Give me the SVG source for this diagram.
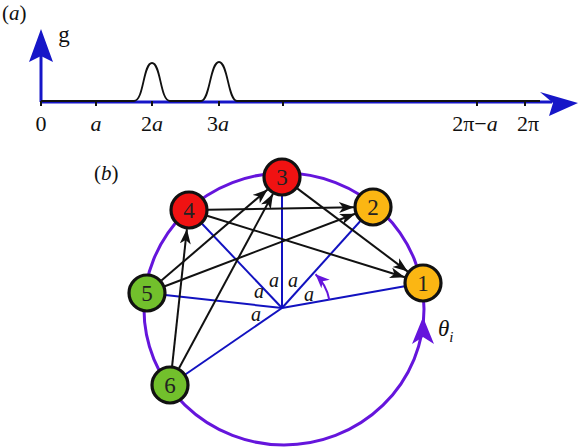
<svg xmlns="http://www.w3.org/2000/svg" width="580" height="448" viewBox="0 0 580 448">
<style>
.t{font-family:"Liberation Serif","Times New Roman",serif;fill:#111}
.i{font-style:italic}
.ax{stroke:#1616c8;stroke-width:3;fill:none}
.axh{fill:#1616c8}
.tick{stroke:#111;stroke-width:2}
.blue{stroke:#1212c0;stroke-width:2;fill:none}
.edge{stroke:#111;stroke-width:2;fill:none;marker-end:url(#ah)}
.node circle{stroke:#111;stroke-width:3.2}
.red{fill:#f01212}
.org{fill:#fbb613}
.grn{fill:#72c02c}
.num{font-family:"Liberation Serif","Times New Roman",serif;font-size:23px;fill:#222;text-anchor:middle}
.ring{stroke:#6515dc;stroke-width:3;fill:none}
</style>
<defs>
<marker id="ah" markerUnits="userSpaceOnUse" markerWidth="16" markerHeight="12" refX="15" refY="5.5" orient="auto">
<path d="M0,0 L15,5.5 L0,11 L4,5.5 z" fill="#111"/>
</marker>
<marker id="ahp" markerUnits="userSpaceOnUse" markerWidth="16" markerHeight="14" refX="14" refY="6" orient="auto">
<path d="M0,0 L14,6 L0,12 L4,6 z" fill="#6515dc"/>
</marker>
</defs>

<g id="panel-a">
<text class="t" x="2" y="20" font-size="21">(<tspan class="i">a</tspan>)</text>
<line class="ax" x1="41" y1="102" x2="41" y2="52"/>
<path class="axh" d="M41,29 L53,62 L41,56 L29,62 z"/>
<line class="ax" x1="41" y1="102" x2="552" y2="102"/>
<path class="axh" d="M540,92 L578,103 L549,116 L553,103 z"/>
<path d="M41,101 L134,101 C144,101 143,63 152,63 C161,63 160,101 170,101 L201,101 C210,101 210,62 219,62 C228,62 228,101 237,101 L540,101" fill="none" stroke="#111" stroke-width="1.8"/>
<g class="tick">
<line x1="41" y1="101" x2="41" y2="106"/>
<line x1="96" y1="101" x2="96" y2="106"/>
<line x1="152" y1="101" x2="152" y2="106"/>
<line x1="219" y1="101" x2="219" y2="106"/>
<line x1="283" y1="101" x2="283" y2="106"/>
<line x1="477" y1="101" x2="477" y2="106"/>
<line x1="525" y1="101" x2="525" y2="106"/>
</g>
<text class="t" x="64" y="42" font-size="23" text-anchor="middle">g</text>
<g font-size="22" text-anchor="middle">
<text class="t" x="41" y="131">0</text>
<text class="t i" x="96" y="131">a</text>
<text class="t" x="152" y="131">2<tspan class="i">a</tspan></text>
<text class="t" x="218" y="131">3<tspan class="i">a</tspan></text>
<text class="t" x="475" y="131">2π−<tspan class="i">a</tspan></text>
<text class="t" x="528" y="131">2π</text>
</g>
</g>

<g id="panel-b">
<text class="t" x="94" y="180" font-size="21">(<tspan class="i">b</tspan>)</text>
<ellipse class="ring" cx="284" cy="309" rx="140" ry="136"/>
<path d="M423,317 L434,344 L423,337 L412,344 z" fill="#6515dc"/>
<text class="t i" x="438" y="336" font-size="23">θ<tspan font-size="15" dy="6">i</tspan></text>
</g>

<g id="spokes">
<line class="blue" x1="282" y1="308" x2="423" y2="283"/>
<line class="blue" x1="282" y1="308" x2="373" y2="207"/>
<line class="blue" x1="282" y1="308" x2="282" y2="177"/>
<line class="blue" x1="282" y1="308" x2="189" y2="210"/>
<line class="blue" x1="282" y1="308" x2="147" y2="293"/>
<line class="blue" x1="282" y1="308" x2="170" y2="385"/>
<path d="M329.3,299.7 A48,48 0 0 0 315.5,274.3" fill="none" stroke="#6515dc" stroke-width="2" marker-end="url(#ahp)"/>
<g font-size="20">
<text class="t i" x="274" y="287" text-anchor="middle">a</text>
<text class="t i" x="293" y="287" text-anchor="middle">a</text>
<text class="t i" x="259" y="298" text-anchor="middle">a</text>
<text class="t i" x="309" y="301" text-anchor="middle">a</text>
<text class="t i" x="256" y="321" text-anchor="middle">a</text>
</g>
</g>

<g id="connectors">
<line class="edge" x1="208" y1="209.7" x2="354" y2="207.3"/>
<line class="edge" x1="207.1" y1="215.7" x2="404.9" y2="277.3"/>
<line class="edge" x1="297.2" y1="188.4" x2="407.8" y2="271.6"/>
<line class="edge" x1="161.4" y1="280.6" x2="267.6" y2="189.4"/>
<line class="edge" x1="164.8" y1="286.2" x2="355.2" y2="213.8"/>
<line class="edge" x1="172.1" y1="366.1" x2="186.9" y2="229.1"/>
<line class="edge" x1="179" y1="368.3" x2="273" y2="193.7"/>
</g>

<g id="node1" class="node"><circle class="org" cx="423" cy="283" r="18"/><text class="num" x="423" y="291">1</text></g>
<g id="node2" class="node"><circle class="org" cx="373" cy="207" r="18"/><text class="num" x="373" y="215">2</text></g>
<g id="node3" class="node"><circle class="red" cx="282" cy="177" r="18"/><text class="num" x="282" y="185">3</text></g>
<g id="node4" class="node"><circle class="red" cx="189" cy="210" r="18"/><text class="num" x="189" y="218">4</text></g>
<g id="node5" class="node"><circle class="grn" cx="147" cy="293" r="18"/><text class="num" x="147" y="301">5</text></g>
<g id="node6" class="node"><circle class="grn" cx="170" cy="385" r="18"/><text class="num" x="170" y="393">6</text></g>
</svg>
